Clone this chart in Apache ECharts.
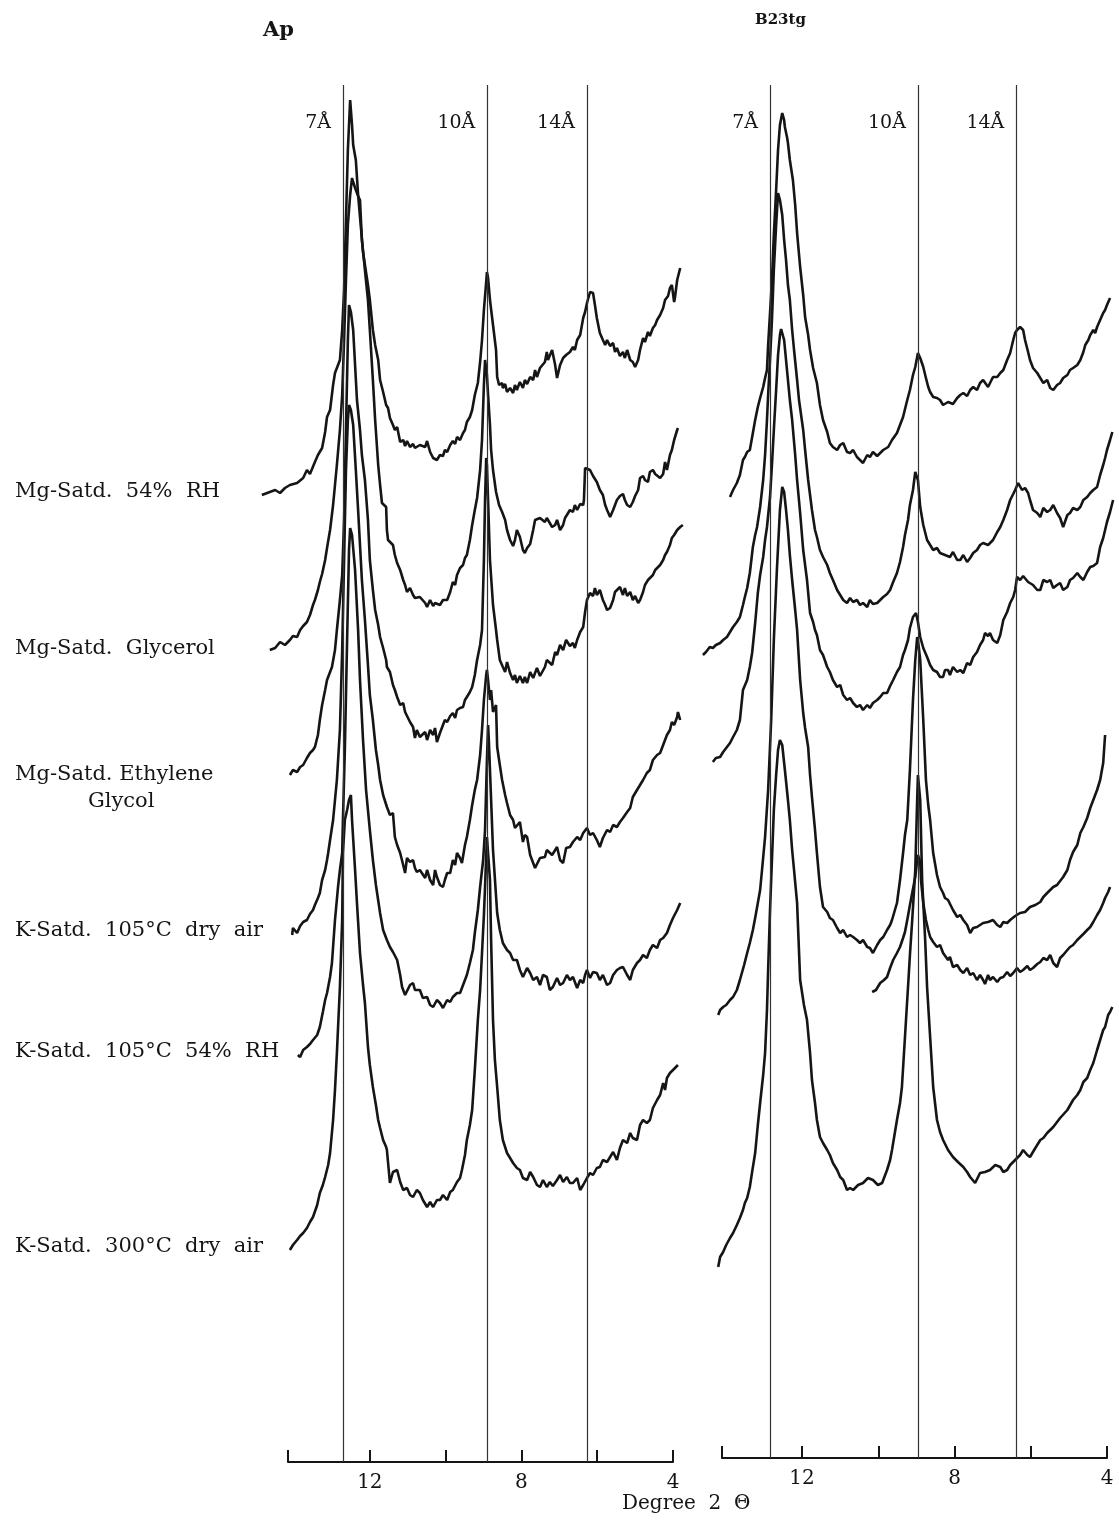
<!DOCTYPE html>
<html>
<head>
<meta charset="utf-8">
<script src="https://cdn.jsdelivr.net/npm/echarts@6/dist/echarts.min.js"></script>
<style>
html, body { margin: 0; padding: 0; background: #fff; }
#main { width: 1119px; height: 1520px; }
</style>
</head>
<body>
<div id="main"></div>
<script>
// X-ray diffraction traces, [degree 2 theta, relative intensity]
var panelTitles = ['Ap', 'B23tg'];
var treatments = ['Mg-Satd.  54%  RH', 'Mg-Satd.  Glycerol', 'Mg-Satd. Ethylene', 'Glycol',
    'K-Satd.  105°C  dry  air', 'K-Satd.  105°C  54%  RH', 'K-Satd.  300°C  dry  air'];
var peakNames = ['7Å', '10Å', '14Å'];
var apPeakPos = [12.71, 8.9, 6.27];
var b23PeakPos = [12.84, 8.96, 6.38];
var tickValues = [4, 6, 8, 10, 12];
var tickLabels = [4, 8, 12];

var apMg54 = [[14.85,967],[14.64,970],[14.50,972],[14.37,969],[14.24,974],[14.11,977],[13.92,979],[13.76,984],[13.66,992],[13.58,988],[13.45,1000],[13.37,1007],[13.26,1014],[13.18,1030],[13.13,1045],[13.05,1052],[12.97,1077],[12.92,1089],[12.87,1094],[12.79,1102],[12.73,1132],[12.68,1172],[12.63,1242],[12.58,1312],[12.52,1362],[12.47,1337],[12.44,1317],[12.37,1302],[12.31,1267],[12.23,1232],[12.18,1210],[12.13,1197],[12.05,1177],[12.00,1162],[11.92,1132],[11.86,1117],[11.78,1102],[11.73,1082],[11.65,1070],[11.57,1057],[11.52,1054],[11.47,1044],[11.39,1037],[11.34,1032],[11.28,1035],[11.20,1020],[11.12,1022],[11.07,1016],[11.02,1021],[10.94,1015],[10.86,1018],[10.81,1014],[10.68,1017],[10.54,1015],[10.49,1021],[10.41,1010],[10.33,1004],[10.28,1006],[10.23,1002],[10.15,1007],[10.07,1006],[10.02,1012],[9.96,1010],[9.88,1017],[9.81,1021],[9.75,1018],[9.70,1025],[9.62,1022],[9.54,1029],[9.49,1032],[9.44,1040],[9.36,1045],[9.30,1052],[9.23,1067],[9.15,1079],[9.09,1100],[9.04,1122],[8.99,1152],[8.93,1180],[8.91,1190],[8.88,1184],[8.83,1162],[8.75,1137],[8.67,1112],[8.64,1085],[8.59,1077],[8.51,1079],[8.49,1074],[8.43,1078],[8.38,1070],[8.30,1074],[8.22,1069],[8.17,1077],[8.12,1072],[8.04,1080],[7.96,1074],[7.91,1082],[7.85,1078],[7.77,1085],[7.69,1082],[7.64,1092],[7.59,1085],[7.51,1094],[7.38,1100],[7.33,1110],[7.30,1102],[7.19,1112],[7.11,1097],[7.06,1084],[6.98,1097],[6.90,1104],[6.82,1107],[6.72,1110],[6.64,1115],[6.59,1112],[6.53,1122],[6.45,1127],[6.37,1144],[6.32,1150],[6.27,1159],[6.19,1170],[6.11,1169],[6.06,1157],[6.01,1144],[5.93,1129],[5.85,1122],[5.79,1117],[5.74,1122],[5.66,1116],[5.58,1119],[5.53,1110],[5.48,1114],[5.40,1106],[5.32,1110],[5.27,1104],[5.21,1112],[5.13,1102],[5.06,1100],[5.00,1095],[4.92,1102],[4.87,1112],[4.79,1124],[4.74,1120],[4.66,1130],[4.61,1126],[4.53,1134],[4.47,1137],[4.42,1142],[4.34,1147],[4.26,1154],[4.21,1162],[4.13,1166],[4.08,1174],[4.03,1177],[3.97,1160],[3.95,1164],[3.89,1182],[3.81,1194]];

var apMgGly = [[14.64,812],[14.50,814],[14.37,820],[14.24,817],[14.11,822],[14.03,826],[13.92,825],[13.84,832],[13.76,836],[13.66,840],[13.58,847],[13.50,857],[13.45,862],[13.37,872],[13.32,880],[13.26,888],[13.18,902],[13.13,914],[13.05,932],[12.97,957],[12.92,977],[12.87,997],[12.79,1032],[12.73,1067],[12.68,1122],[12.63,1182],[12.58,1237],[12.52,1267],[12.47,1284],[12.44,1280],[12.37,1272],[12.31,1266],[12.26,1262],[12.21,1222],[12.15,1200],[12.13,1192],[12.05,1162],[12.00,1132],[11.92,1082],[11.86,1042],[11.78,997],[11.73,977],[11.68,959],[11.65,957],[11.57,955],[11.55,932],[11.52,922],[11.47,920],[11.39,917],[11.34,907],[11.28,899],[11.20,892],[11.12,882],[11.07,877],[11.02,870],[10.94,874],[10.86,867],[10.81,864],[10.68,865],[10.54,859],[10.49,855],[10.41,862],[10.33,856],[10.28,859],[10.23,859],[10.15,857],[10.07,862],[10.02,864],[9.96,862],[9.88,870],[9.81,880],[9.75,877],[9.70,887],[9.62,894],[9.54,897],[9.49,904],[9.44,907],[9.36,922],[9.30,937],[9.23,952],[9.17,964],[9.09,992],[9.04,1022],[8.99,1077],[8.96,1102],[8.93,1104],[8.91,1087],[8.88,1067],[8.83,1037],[8.80,1012],[8.75,992],[8.67,970],[8.59,957],[8.51,950],[8.43,942],[8.38,932],[8.30,922],[8.22,916],[8.17,922],[8.12,932],[8.04,925],[7.96,912],[7.91,909],[7.85,914],[7.77,918],[7.69,932],[7.64,942],[7.59,944],[7.51,944],[7.38,940],[7.33,944],[7.19,935],[7.11,937],[7.06,942],[6.98,932],[6.90,937],[6.85,944],[6.80,947],[6.72,952],[6.64,950],[6.59,957],[6.53,952],[6.45,958],[6.37,957],[6.35,962],[6.32,994],[6.27,995],[6.19,992],[6.11,986],[6.06,987],[6.01,980],[5.93,972],[5.85,967],[5.79,957],[5.74,952],[5.66,945],[5.58,952],[5.53,957],[5.48,962],[5.40,966],[5.32,968],[5.27,962],[5.21,957],[5.13,955],[5.06,960],[5.00,966],[4.92,972],[4.87,984],[4.79,986],[4.74,982],[4.66,980],[4.61,990],[4.53,992],[4.47,988],[4.42,990],[4.34,984],[4.26,988],[4.21,1000],[4.16,992],[4.08,1007],[4.03,1012],[3.97,1022],[3.89,1032],[3.87,1034]];

var apMgEG = [[14.11,687],[14.03,692],[13.92,690],[13.84,695],[13.76,697],[13.66,704],[13.58,709],[13.50,712],[13.45,715],[13.37,727],[13.32,742],[13.26,757],[13.18,772],[13.13,782],[13.05,790],[13.00,795],[12.92,812],[12.87,832],[12.79,862],[12.73,887],[12.68,942],[12.63,1032],[12.58,1122],[12.55,1157],[12.50,1150],[12.44,1132],[12.39,1097],[12.34,1062],[12.26,1032],[12.21,1007],[12.13,982],[12.05,942],[12.00,902],[11.92,872],[11.86,852],[11.78,837],[11.73,825],[11.65,814],[11.57,802],[11.55,795],[11.47,790],[11.39,777],[11.34,772],[11.28,765],[11.20,757],[11.12,759],[11.07,750],[11.02,749],[10.94,740],[10.86,735],[10.81,724],[10.76,732],[10.68,725],[10.54,730],[10.49,722],[10.41,732],[10.33,727],[10.28,734],[10.23,720],[10.15,729],[10.07,737],[10.02,742],[9.96,740],[9.88,746],[9.81,749],[9.75,744],[9.70,752],[9.62,754],[9.54,755],[9.49,762],[9.44,765],[9.36,770],[9.30,775],[9.23,787],[9.17,802],[9.09,817],[9.04,832],[8.99,902],[8.96,962],[8.93,1004],[8.91,997],[8.88,962],[8.83,902],[8.75,857],[8.67,832],[8.64,822],[8.57,802],[8.49,795],[8.43,790],[8.38,800],[8.30,789],[8.22,782],[8.17,787],[8.12,779],[8.04,786],[7.96,779],[7.91,785],[7.85,779],[7.77,790],[7.69,784],[7.64,782],[7.59,794],[7.51,786],[7.38,795],[7.33,802],[7.19,797],[7.11,810],[7.06,807],[6.98,817],[6.90,812],[6.82,822],[6.72,816],[6.64,819],[6.59,814],[6.53,822],[6.45,830],[6.37,835],[6.32,850],[6.27,862],[6.19,869],[6.11,866],[6.06,874],[6.01,867],[5.93,872],[5.85,862],[5.79,857],[5.74,852],[5.66,854],[5.58,862],[5.53,870],[5.48,872],[5.40,875],[5.32,867],[5.27,874],[5.21,866],[5.13,870],[5.06,862],[5.00,866],[4.92,859],[4.87,862],[4.79,870],[4.74,877],[4.66,882],[4.61,880],[4.53,887],[4.47,892],[4.42,894],[4.34,897],[4.26,902],[4.21,907],[4.16,910],[4.08,917],[4.03,924],[3.97,927],[3.89,932],[3.81,935],[3.74,937]];

var apK105Dry = [[14.05,527],[14.03,534],[13.92,529],[13.84,536],[13.76,540],[13.66,542],[13.58,548],[13.50,552],[13.45,557],[13.37,564],[13.32,569],[13.26,582],[13.18,592],[13.13,602],[13.10,609],[13.05,622],[12.97,642],[12.92,662],[12.87,682],[12.79,732],[12.73,812],[12.68,902],[12.63,992],[12.58,1042],[12.55,1057],[12.50,1052],[12.44,1037],[12.37,992],[12.31,952],[12.26,917],[12.21,882],[12.13,842],[12.05,797],[12.00,767],[11.92,742],[11.84,712],[11.78,697],[11.73,682],[11.65,667],[11.55,655],[11.47,647],[11.39,649],[11.34,625],[11.28,617],[11.20,609],[11.12,597],[11.07,589],[11.02,604],[10.94,600],[10.86,602],[10.81,594],[10.76,590],[10.68,592],[10.54,584],[10.49,592],[10.41,582],[10.33,577],[10.28,592],[10.23,585],[10.15,577],[10.07,575],[10.02,582],[9.96,589],[9.88,589],[9.81,602],[9.75,597],[9.70,609],[9.62,604],[9.57,599],[9.49,617],[9.44,625],[9.36,642],[9.30,657],[9.23,672],[9.17,682],[9.09,707],[9.04,732],[8.99,762],[8.93,787],[8.91,792],[8.88,782],[8.83,762],[8.80,772],[8.75,750],[8.67,757],[8.64,715],[8.57,697],[8.51,682],[8.43,667],[8.38,659],[8.30,647],[8.22,642],[8.17,634],[8.12,632],[8.04,640],[7.96,620],[7.91,627],[7.85,625],[7.77,607],[7.69,599],[7.64,594],[7.59,592],[7.51,604],[7.38,605],[7.33,612],[7.19,607],[7.06,615],[6.98,602],[6.90,599],[6.82,614],[6.72,615],[6.64,620],[6.53,625],[6.45,622],[6.37,629],[6.27,634],[6.19,627],[6.11,629],[6.01,622],[5.93,615],[5.85,624],[5.74,632],[5.66,630],[5.58,637],[5.48,635],[5.40,640],[5.32,644],[5.21,650],[5.13,654],[5.06,665],[4.95,672],[4.87,677],[4.79,682],[4.69,689],[4.61,692],[4.53,702],[4.42,707],[4.34,709],[4.26,717],[4.21,722],[4.16,727],[4.08,732],[4.03,740],[3.97,737],[3.89,745],[3.87,750],[3.81,742]];

var apK105Rh = [[13.90,407],[13.84,405],[13.76,412],[13.66,415],[13.58,418],[13.50,422],[13.39,427],[13.32,435],[13.24,450],[13.18,462],[13.13,469],[13.05,485],[13.00,499],[12.92,542],[12.84,575],[12.79,592],[12.73,609],[12.71,642],[12.66,712],[12.60,822],[12.55,912],[12.52,934],[12.47,927],[12.39,892],[12.31,832],[12.26,782],[12.18,722],[12.10,672],[12.00,632],[11.92,602],[11.84,577],[11.73,549],[11.65,532],[11.55,522],[11.47,515],[11.39,510],[11.28,502],[11.20,487],[11.15,475],[11.07,467],[11.02,465],[10.94,477],[10.86,479],[10.81,472],[10.68,472],[10.60,464],[10.49,465],[10.41,457],[10.33,455],[10.23,462],[10.15,459],[10.07,454],[9.96,462],[9.88,460],[9.81,465],[9.70,469],[9.62,469],[9.54,477],[9.49,479],[9.44,487],[9.36,499],[9.28,512],[9.23,529],[9.15,552],[9.09,575],[9.01,602],[8.96,632],[8.91,702],[8.88,737],[8.86,722],[8.80,662],[8.75,612],[8.64,549],[8.57,532],[8.49,519],[8.38,512],[8.30,509],[8.22,502],[8.12,502],[8.04,492],[7.96,485],[7.85,494],[7.77,489],[7.69,482],[7.59,485],[7.51,477],[7.43,487],[7.33,485],[7.25,472],[7.17,475],[7.06,484],[6.98,477],[6.90,479],[6.80,487],[6.72,482],[6.64,485],[6.53,474],[6.45,482],[6.37,479],[6.32,487],[6.27,492],[6.19,484],[6.11,490],[6.01,489],[5.93,482],[5.85,487],[5.74,477],[5.66,479],[5.58,487],[5.48,492],[5.40,494],[5.32,495],[5.21,487],[5.13,482],[5.06,492],[4.95,499],[4.87,502],[4.79,507],[4.69,504],[4.61,512],[4.53,517],[4.42,514],[4.34,522],[4.26,524],[4.16,529],[4.08,537],[4.00,544],[3.89,552],[3.81,559]];

var apK300 = [[14.11,212],[14.03,217],[13.92,222],[13.84,226],[13.76,229],[13.66,234],[13.58,240],[13.50,245],[13.39,257],[13.32,269],[13.24,277],[13.18,285],[13.10,297],[13.05,309],[12.97,342],[12.92,372],[12.87,409],[12.79,475],[12.73,542],[12.71,609],[12.66,642],[12.60,652],[12.55,662],[12.50,667],[12.47,642],[12.39,592],[12.34,559],[12.26,509],[12.18,477],[12.13,459],[12.05,415],[12.00,397],[11.92,375],[11.84,357],[11.78,342],[11.73,334],[11.65,322],[11.57,315],[11.55,312],[11.47,279],[11.39,290],[11.28,292],[11.20,280],[11.12,272],[11.02,274],[10.94,267],[10.86,265],[10.76,272],[10.68,269],[10.60,262],[10.49,255],[10.41,260],[10.33,255],[10.23,262],[10.15,262],[10.07,267],[9.96,262],[9.88,270],[9.81,272],[9.70,280],[9.62,284],[9.57,292],[9.49,307],[9.44,322],[9.36,337],[9.30,352],[9.23,392],[9.15,442],[9.09,472],[9.04,509],[8.99,547],[8.96,575],[8.91,625],[8.88,627],[8.83,582],[8.80,522],[8.75,442],[8.70,402],[8.64,375],[8.57,342],[8.49,322],[8.38,309],[8.30,304],[8.22,299],[8.12,294],[8.04,292],[7.96,284],[7.85,282],[7.77,290],[7.69,285],[7.59,277],[7.51,275],[7.43,282],[7.33,275],[7.25,280],[7.17,276],[7.06,282],[6.98,287],[6.90,280],[6.80,285],[6.72,279],[6.64,279],[6.53,284],[6.45,272],[6.37,277],[6.32,279],[6.27,284],[6.19,289],[6.11,287],[6.01,294],[5.93,295],[5.85,302],[5.74,300],[5.66,305],[5.58,310],[5.48,302],[5.40,314],[5.32,322],[5.21,319],[5.13,329],[5.06,324],[4.95,322],[4.87,337],[4.79,342],[4.69,339],[4.61,342],[4.53,354],[4.42,362],[4.34,367],[4.26,379],[4.21,372],[4.16,384],[4.08,389],[4.00,392],[3.95,394],[3.87,397]];

var b23Mg54 = [[13.89,961],[13.81,968],[13.71,975],[13.63,983],[13.55,998],[13.50,1001],[13.44,1006],[13.37,1008],[13.29,1025],[13.23,1038],[13.16,1051],[13.10,1060],[13.02,1071],[12.97,1080],[12.92,1088],[12.89,1113],[12.84,1145],[12.79,1178],[12.74,1223],[12.68,1268],[12.63,1308],[12.58,1333],[12.52,1345],[12.47,1338],[12.45,1331],[12.39,1320],[12.37,1315],[12.32,1298],[12.24,1278],[12.18,1253],[12.13,1225],[12.05,1191],[11.97,1163],[11.92,1141],[11.84,1123],[11.79,1108],[11.71,1090],[11.61,1075],[11.53,1053],[11.45,1038],[11.34,1026],[11.27,1015],[11.19,1011],[11.08,1008],[11.00,1013],[10.92,1015],[10.82,1006],[10.74,1005],[10.66,1008],[10.56,1001],[10.48,998],[10.40,995],[10.29,1003],[10.22,1001],[10.14,1006],[10.03,1002],[9.95,1005],[9.87,1008],[9.74,1011],[9.64,1018],[9.51,1025],[9.43,1033],[9.35,1041],[9.24,1058],[9.17,1068],[9.09,1083],[9.03,1091],[8.96,1105],[8.90,1100],[8.82,1091],[8.75,1080],[8.69,1071],[8.64,1066],[8.56,1061],[8.46,1060],[8.38,1058],[8.30,1053],[8.25,1051],[8.17,1056],[8.12,1058],[8.04,1054],[7.93,1060],[7.85,1063],[7.77,1065],[7.67,1062],[7.59,1068],[7.51,1071],[7.41,1068],[7.33,1075],[7.25,1078],[7.20,1080],[7.12,1071],[7.07,1073],[6.99,1081],[6.88,1081],[6.80,1085],[6.72,1088],[6.62,1098],[6.54,1105],[6.46,1118],[6.41,1125],[6.36,1128],[6.28,1131],[6.20,1128],[6.15,1118],[6.07,1106],[6.02,1098],[5.94,1090],[5.83,1085],[5.75,1080],[5.67,1075],[5.57,1078],[5.49,1070],[5.41,1068],[5.31,1073],[5.23,1075],[5.15,1080],[5.04,1083],[4.97,1088],[4.89,1090],[4.78,1093],[4.70,1098],[4.62,1106],[4.57,1113],[4.49,1118],[4.44,1123],[4.36,1128],[4.31,1125],[4.26,1131],[4.18,1138],[4.10,1145],[4.05,1148],[4.00,1153],[3.92,1160]];

var b23MgGly = [[14.60,803],[14.52,806],[14.42,811],[14.34,810],[14.26,813],[14.15,815],[14.07,818],[13.97,821],[13.89,826],[13.81,831],[13.71,836],[13.63,841],[13.55,853],[13.50,861],[13.44,870],[13.37,885],[13.29,911],[13.23,923],[13.18,931],[13.10,951],[13.02,978],[12.97,1003],[12.92,1038],[12.89,1063],[12.84,1098],[12.79,1138],[12.74,1188],[12.68,1233],[12.63,1265],[12.58,1258],[12.52,1243],[12.47,1218],[12.42,1198],[12.37,1173],[12.32,1158],[12.26,1128],[12.21,1108],[12.13,1078],[12.08,1058],[11.97,1028],[11.92,1008],[11.84,978],[11.79,963],[11.74,948],[11.66,928],[11.61,921],[11.53,908],[11.45,901],[11.34,893],[11.27,885],[11.19,878],[11.08,868],[11.00,863],[10.92,858],[10.82,855],[10.74,860],[10.66,856],[10.56,858],[10.48,853],[10.40,855],[10.29,851],[10.22,858],[10.14,854],[10.03,855],[9.95,858],[9.87,861],[9.77,864],[9.69,868],[9.61,876],[9.51,885],[9.43,896],[9.35,911],[9.30,923],[9.22,938],[9.17,953],[9.09,968],[9.03,986],[9.01,988],[8.96,978],[8.90,951],[8.82,933],[8.72,918],[8.64,913],[8.56,908],[8.46,910],[8.38,905],[8.25,903],[8.12,901],[8.04,906],[7.93,898],[7.85,898],[7.77,903],[7.67,896],[7.59,900],[7.51,905],[7.41,908],[7.33,913],[7.25,915],[7.12,913],[6.99,918],[6.88,926],[6.80,931],[6.72,938],[6.62,948],[6.54,958],[6.46,964],[6.41,968],[6.33,975],[6.28,973],[6.23,968],[6.15,970],[6.07,965],[6.02,958],[5.94,948],[5.83,945],[5.75,941],[5.67,950],[5.57,946],[5.49,948],[5.41,953],[5.31,945],[5.23,940],[5.15,931],[5.04,943],[4.97,945],[4.89,950],[4.78,948],[4.70,951],[4.62,958],[4.52,961],[4.44,965],[4.36,968],[4.26,971],[4.18,983],[4.10,993],[4.05,1000],[4.00,1008],[3.92,1018],[3.86,1026]];

var b23MgEG = [[14.34,696],[14.26,700],[14.15,701],[14.07,706],[13.97,711],[13.89,715],[13.81,721],[13.71,728],[13.63,738],[13.55,768],[13.50,770],[13.44,778],[13.37,791],[13.31,805],[13.23,835],[13.16,865],[13.10,883],[13.02,901],[12.97,918],[12.92,931],[12.84,961],[12.79,993],[12.74,1028],[12.68,1068],[12.63,1103],[12.58,1123],[12.55,1129],[12.52,1128],[12.47,1118],[12.42,1098],[12.37,1078],[12.32,1058],[12.26,1038],[12.18,1003],[12.13,978],[12.05,945],[11.97,908],[11.92,893],[11.87,878],[11.79,845],[11.71,836],[11.66,828],[11.61,823],[11.53,808],[11.45,803],[11.34,791],[11.27,786],[11.19,778],[11.08,771],[11.00,773],[10.92,763],[10.82,758],[10.74,760],[10.66,755],[10.56,751],[10.48,753],[10.40,748],[10.29,753],[10.22,750],[10.14,755],[10.03,758],[9.95,761],[9.87,765],[9.77,765],[9.69,772],[9.61,778],[9.51,786],[9.43,791],[9.35,803],[9.30,808],[9.22,818],[9.17,830],[9.09,841],[9.01,845],[8.96,836],[8.90,821],[8.82,810],[8.72,801],[8.64,793],[8.56,788],[8.46,786],[8.38,781],[8.30,781],[8.25,788],[8.17,788],[8.12,783],[8.04,791],[7.93,786],[7.85,788],[7.77,785],[7.67,795],[7.59,793],[7.51,801],[7.41,806],[7.33,813],[7.25,818],[7.20,825],[7.12,822],[7.07,825],[6.99,818],[6.88,815],[6.80,823],[6.72,838],[6.62,846],[6.54,855],[6.46,861],[6.41,868],[6.36,881],[6.28,878],[6.20,882],[6.15,880],[6.07,876],[6.02,878],[5.94,873],[5.83,868],[5.75,868],[5.67,878],[5.57,876],[5.49,878],[5.41,870],[5.31,873],[5.23,875],[5.15,868],[5.04,871],[4.97,878],[4.89,880],[4.78,885],[4.70,881],[4.62,878],[4.52,886],[4.44,891],[4.36,892],[4.26,895],[4.18,911],[4.10,920],[4.05,928],[4.00,936],[3.92,946],[3.84,958]];

var b23K105Dry = [[14.20,443],[14.15,448],[14.07,451],[13.99,453],[13.94,455],[13.89,458],[13.81,461],[13.71,468],[13.63,478],[13.52,493],[13.44,505],[13.37,515],[13.29,528],[13.23,540],[13.16,555],[13.10,568],[13.05,588],[12.97,621],[12.89,668],[12.81,738],[12.74,818],[12.66,888],[12.58,948],[12.52,971],[12.47,966],[12.42,948],[12.37,928],[12.32,903],[12.26,878],[12.18,848],[12.13,828],[12.05,778],[11.97,745],[11.92,730],[11.84,711],[11.79,683],[11.74,661],[11.66,628],[11.61,605],[11.53,571],[11.45,551],[11.34,546],[11.27,540],[11.19,538],[11.08,530],[11.00,525],[10.92,528],[10.82,521],[10.74,523],[10.66,521],[10.56,518],[10.48,515],[10.40,518],[10.29,511],[10.22,510],[10.14,505],[10.03,513],[9.95,518],[9.87,521],[9.77,528],[9.69,533],[9.64,538],[9.51,555],[9.43,578],[9.35,605],[9.30,623],[9.24,638],[9.17,688],[9.09,758],[9.03,798],[8.98,821],[8.96,818],[8.90,798],[8.82,738],[8.75,678],[8.69,653],[8.64,638],[8.56,605],[8.46,583],[8.38,571],[8.30,565],[8.25,560],[8.17,558],[8.04,548],[7.93,541],[7.85,543],[7.77,538],[7.67,533],[7.59,525],[7.51,530],[7.41,531],[7.33,533],[7.25,535],[7.12,536],[6.99,538],[6.88,533],[6.80,531],[6.72,536],[6.62,535],[6.54,538],[6.41,542],[6.28,545],[6.15,546],[6.02,551],[5.88,553],[5.75,556],[5.67,561],[5.57,565],[5.41,571],[5.31,573],[5.15,581],[5.04,588],[4.97,598],[4.89,606],[4.78,613],[4.70,625],[4.62,631],[4.52,640],[4.44,650],[4.36,658],[4.26,668],[4.18,678],[4.10,695],[4.05,723]];

var b23K105Rh = [[10.16,466],[10.06,468],[9.95,475],[9.85,478],[9.77,481],[9.69,490],[9.61,498],[9.51,505],[9.43,511],[9.35,520],[9.30,526],[9.24,538],[9.17,553],[9.11,565],[9.03,581],[8.98,598],[8.96,603],[8.90,596],[8.88,578],[8.82,555],[8.75,538],[8.69,528],[8.64,521],[8.56,516],[8.46,511],[8.38,513],[8.30,505],[8.25,503],[8.17,498],[8.12,501],[8.04,491],[7.93,493],[7.85,488],[7.77,485],[7.67,490],[7.59,483],[7.51,485],[7.41,478],[7.33,483],[7.25,478],[7.20,474],[7.12,483],[7.07,478],[6.99,481],[6.88,476],[6.80,480],[6.72,481],[6.62,486],[6.54,482],[6.46,485],[6.36,490],[6.28,486],[6.20,488],[6.09,492],[6.02,488],[5.94,490],[5.83,494],[5.75,496],[5.67,500],[5.57,498],[5.49,503],[5.41,495],[5.31,491],[5.23,500],[5.15,503],[5.04,508],[4.97,511],[4.89,513],[4.78,518],[4.70,521],[4.62,524],[4.52,528],[4.44,531],[4.36,536],[4.26,543],[4.18,548],[4.10,555],[4.05,560],[3.97,566],[3.92,571]];

var b23K300 = [[14.20,191],[14.15,201],[14.07,206],[13.99,213],[13.94,215],[13.89,220],[13.81,225],[13.71,233],[13.63,240],[13.55,248],[13.50,255],[13.44,260],[13.37,271],[13.31,286],[13.23,305],[13.16,333],[13.10,355],[13.02,383],[12.97,405],[12.92,448],[12.89,488],[12.84,548],[12.79,598],[12.74,648],[12.68,683],[12.63,708],[12.58,718],[12.52,713],[12.45,688],[12.37,658],[12.32,638],[12.26,608],[12.21,588],[12.13,555],[12.05,478],[11.95,453],[11.87,438],[11.79,405],[11.74,378],[11.66,355],[11.61,338],[11.53,321],[11.45,315],[11.34,308],[11.27,303],[11.19,295],[11.08,288],[11.00,281],[10.92,278],[10.82,268],[10.74,270],[10.66,268],[10.53,273],[10.40,275],[10.27,280],[10.14,278],[10.01,273],[9.90,275],[9.85,280],[9.77,288],[9.69,298],[9.64,308],[9.51,338],[9.43,355],[9.38,371],[9.30,421],[9.22,471],[9.17,503],[9.11,538],[9.03,588],[8.98,658],[8.96,683],[8.90,658],[8.85,578],[8.77,518],[8.72,471],[8.64,421],[8.56,371],[8.46,338],[8.38,326],[8.30,318],[8.17,308],[8.04,301],[7.91,296],[7.77,291],[7.67,286],[7.59,281],[7.46,275],[7.33,285],[7.20,286],[7.07,288],[6.93,293],[6.80,291],[6.72,286],[6.62,288],[6.54,293],[6.41,298],[6.28,303],[6.20,308],[6.09,303],[6.02,301],[5.88,310],[5.75,318],[5.67,320],[5.57,325],[5.41,331],[5.31,336],[5.23,340],[5.04,348],[4.89,358],[4.78,363],[4.70,368],[4.62,376],[4.52,380],[4.44,388],[4.36,395],[4.26,408],[4.18,418],[4.10,428],[4.05,431],[3.97,443],[3.92,446],[3.86,451]];

var apTraces = [apMg54, apMgGly, apMgEG, apK105Dry, apK105Rh, apK300];
var b23Traces = [b23Mg54, b23MgGly, b23MgEG, b23K105Dry, b23K105Rh, b23K300];

var ink = '#151515';
var serif = '"DejaVu Serif", "Liberation Serif", serif';

// visible axis frames and a wider hidden frame on the same scale so traces may run past the axis ends
var panels = [
    { min: 4, max: 14.16, left: 288, width: 385, top: 85, bottom: 58, peaks: apPeakPos, traces: apTraces },
    { min: 4, max: 14.1, left: 722, width: 385, top: 85, bottom: 62, peaks: b23PeakPos, traces: b23Traces }
];
var padLeft = 30, padRight = 10;

var grids = [], xAxes = [], yAxes = [], series = [];
panels.forEach(function (p, i) {
    var yMax = 1520 - p.top - p.bottom;
    grids.push({ left: p.left, width: p.width, top: p.top, bottom: p.bottom });
    xAxes.push({
        type: 'value', gridIndex: i, min: p.min, max: p.max, interval: 2, inverse: true,
        axisLine: { show: true, onZero: false, lineStyle: { color: ink, width: 2 } },
        axisTick: { show: true, inside: true, length: 12, lineStyle: { color: ink, width: 2 },
            customValues: tickValues.concat([p.max]) },
        axisLabel: { show: true, margin: 11, color: ink, fontSize: 20, fontFamily: serif,
            customValues: tickLabels },
        splitLine: { show: false }
    });
    yAxes.push({ type: 'value', gridIndex: i, min: 0, max: yMax, show: false });
});
panels.forEach(function (p, i) {
    var pxPerDeg = p.width / (p.max - p.min);
    var yMax = 1520 - p.top - p.bottom;
    var g = panels.length + i;
    grids.push({ left: p.left - padLeft, width: p.width + padLeft + padRight, top: p.top, bottom: p.bottom });
    xAxes.push({ type: 'value', gridIndex: g, min: p.min - padRight / pxPerDeg, max: p.max + padLeft / pxPerDeg,
        inverse: true, show: false });
    yAxes.push({ type: 'value', gridIndex: g, min: 0, max: yMax, show: false });
    p.traces.forEach(function (d, k) {
        var s = {
            type: 'line', xAxisIndex: g, yAxisIndex: g, data: d,
            showSymbol: false, clip: false, silent: true,
            lineStyle: { color: ink, width: 2.6 }
        };
        if (k === 0) {
            s.markLine = {
                silent: true, symbol: ['none', 'none'], label: { show: false },
                lineStyle: { color: '#333', width: 1.2, type: 'solid' },
                data: p.peaks.map(function (v) { return { xAxis: v }; })
            };
        }
        series.push(s);
    });
});

var labelYs = [493, 650, 776, 803, 932, 1053, 1248];
var graphics = treatments.map(function (t, i) {
    var isGlycol = (t === 'Glycol');
    return {
        type: 'text', left: isGlycol ? 88 : 15, top: labelYs[i] - 12,
        style: { text: t, fill: ink, fontSize: 21, fontFamily: serif }
    };
});
graphics.push({ type: 'text', left: 263, top: 20, style: { text: panelTitles[0], fill: ink, fontSize: 21, fontFamily: serif, fontWeight: 'bold' } });
graphics.push({ type: 'text', left: 755, top: 13, style: { text: panelTitles[1], fill: ink, fontSize: 15, fontFamily: serif, fontWeight: 'bold' } });
graphics.push({ type: 'text', left: 622, top: 1494, style: { text: 'Degree  2  Θ', fill: ink, fontSize: 20, fontFamily: serif } });

var option = {
    animation: false,
    backgroundColor: '#fff',
    grid: grids,
    xAxis: xAxes,
    yAxis: yAxes,
    graphic: graphics,
    series: series
};

var myChart = echarts.init(document.getElementById('main'));
myChart.setOption(option);

// peak labels sit just left of each reference line
panels.forEach(function (p, i) {
    p.peaks.forEach(function (v, k) {
        var px = myChart.convertToPixel({ gridIndex: i }, [v, 0]);
        graphics.push({
            type: 'text', x: px[0] - 12, y: 133,
            style: { text: peakNames[k], fill: ink, fontSize: 19, fontFamily: serif,
                align: 'right', verticalAlign: 'bottom' }
        });
    });
});
myChart.setOption({ graphic: graphics });
</script>
</body>
</html>
